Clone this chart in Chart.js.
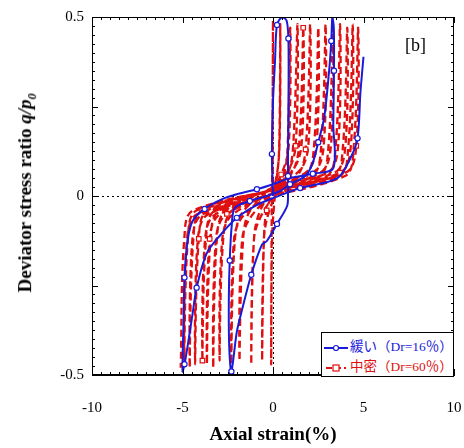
<!DOCTYPE html>
<html>
<head>
<meta charset="utf-8">
<script src="https://cdn.jsdelivr.net/npm/chart.js@4.4.1/dist/chart.umd.min.js"></script>
<style>
  body { margin: 0; background: #fff; }
  #wrap { position: relative; width: 464px; height: 448px; }
  #ytitle {
    position: absolute; left: 27px; top: 193px;
    transform: translate(-50%, -50%) rotate(-90deg);
    white-space: nowrap; font: bold 19px "Liberation Serif", serif; color: #000;
  }
  #ytitle sub { font-size: 12px; }
  #tag { position: absolute; left: 405px; top: 35px; font: 18px "Liberation Serif", serif; }
  #legend {
    position: absolute; left: 321px; top: 332px; width: 131px; height: 43px;
    border: 1px solid #000; background: #fff; font: 13.5px "Liberation Serif", "Noto Sans CJK JP", serif;
  }
  #legend div { position: absolute; left: 2px; white-space: nowrap; }
  #legend svg { vertical-align: middle; margin-right: 2px; }
</style>
</head>
<body>
<div id="wrap">
  <canvas id="chart" width="464" height="448"></canvas>
  <div id="ytitle">Deviator stress ratio <i>q/p</i><sub><i>0</i></sub></div>
  <div id="tag">[b]</div>
  <div id="legend">
    <div style="top:2px;color:#1a1ad8">
      <svg width="24" height="10"><line x1="0" y1="5" x2="24" y2="5" stroke="#1a1ad8" stroke-width="2"/><circle cx="12" cy="5" r="2.5" fill="#fff" stroke="#1a1ad8" stroke-width="1.2"/></svg>緩い（Dr=16％）</div>
    <div style="top:22px;color:#e01010">
      <svg width="24" height="10"><line x1="2" y1="5" x2="22" y2="5" stroke="#e01010" stroke-width="2.2" stroke-dasharray="6 3"/><rect x="9" y="2" width="6" height="6" fill="#fff" stroke="#e01010" stroke-width="1.2"/></svg>中密（Dr=60％）</div>
  </div>
</div>
<script>
// 緩い (Dr=16%) - axial strain (%) and q/p0
const strainLoose = [0, -0.06, 0.0, 0.11, 0.22, 0.5, 0.75, 0.85, 0.86, 0.83, 0.83, 0.83, 0.78, 0.22, -0.33, -0.61, -1.2, -1.72, -2.0, -2.3,
  -2.42, -2.44, -2.39, -2.28, -2.11, -1.28, -0.33, 0.39, 0.94, 1.78, 2.17, 2.5, 2.83, 3.1, 3.22, 3.28,
  3.36, 3.37, 3.33, 3.33, 2.2, 0.94, 0.0, -0.89, -1.94, -2.78, -3.78, -4.44, -4.72, -4.89, -4.94, -5.0,
  -4.89, -4.72, -4.44, -4.22, -3.67, -2.94, -2.0, -1.0, 0.0, 1.5, 3.56, 4.28, 4.67, 4.83, 5.0];
const ratioLoose = [0, 0.117, 0.264, 0.375, 0.478, 0.5, 0.49, 0.44, 0.3, 0.136, 0.056, 0.006, -0.028, -0.078, -0.125, -0.136, -0.22, -0.32, -0.38, -0.49,
  -0.42, -0.283, -0.18, -0.083, -0.033, -0.014, 0.0, 0.014, 0.033, 0.056, 0.089, 0.15, 0.22, 0.35, 0.433, 0.5,
  0.47, 0.35, 0.2, 0.078, 0.062, 0.05, 0.033, 0.019, 0.006, -0.008, -0.036, -0.07, -0.125, -0.228, -0.35, -0.49,
  -0.47, -0.42, -0.328, -0.256, -0.161, -0.111, -0.061, -0.028, -0.006, 0.022, 0.05, 0.106, 0.161, 0.289, 0.389];

// 中密 (Dr=60%)
const strainDense = [0, -0.02, 0.0, -0.03, -0.06, -0.08, -0.1,
  -0.05, 0.1, 0.33, 0.4,
  0.35, 0.1, -0.35, -0.5, -0.6,
  -0.5, -0.2, 0.55, 0.8, 0.95,
  0.87, 0.45, -0.7, -1.05, -1.2,
  -1.05, -0.6, 0.75, 1.1, 1.35,
  1.25, 0.75, -1.25, -1.65, -1.85,
  -1.7, -1.1, 0.92, 1.42, 1.67,
  1.57, 0.97, -1.6, -2.1, -2.3,
  -2.15, -1.55, 1.3, 1.8, 2.05,
  1.95, 1.35, -2.25, -2.75, -2.95,
  -2.8, -2.2, 1.75, 2.25, 2.5,
  2.4, 1.8, -2.6, -3.1, -3.3,
  -3.15, -2.55, 2.15, 2.65, 2.9,
  2.8, 2.2, -2.95, -3.45, -3.65,
  -3.5, -2.9, 2.55, 3.05, 3.3,
  3.2, 2.6, -3.2, -3.7, -3.9,
  -3.75, -3.15, 2.95, 3.45, 3.7,
  3.6, 3.0, -3.6, -4.1, -4.3,
  -4.15, -3.55, 3.35, 3.85, 4.1,
  4.0, 3.4, -3.9, -4.4, -4.6,
  -4.45, -3.85, 3.65, 4.15, 4.4,
  4.3, 3.7, -4.2, -4.7, -4.9,
  -4.75, -4.15, 3.95, 4.45, 4.7,
  4.6, 4.0, -4.4, -4.9, -5.1];
const ratioDense = [0, 0.15, 0.49, 0.14, 0.0, -0.13, -0.47,
  -0.12, 0.0, 0.12, 0.48,
  0.13, 0.03, -0.04, -0.12, -0.46,
  -0.12, -0.04, 0.05, 0.13, 0.47,
  0.14, 0.06, -0.04, -0.12, -0.47,
  -0.12, -0.05, 0.055, 0.13, 0.48,
  0.14, 0.065, -0.04, -0.12, -0.46,
  -0.12, -0.05, 0.055, 0.13, 0.47,
  0.14, 0.065, -0.04, -0.12, -0.47,
  -0.12, -0.05, 0.055, 0.13, 0.48,
  0.14, 0.065, -0.04, -0.12, -0.46,
  -0.12, -0.05, 0.055, 0.13, 0.47,
  0.14, 0.065, -0.04, -0.12, -0.48,
  -0.12, -0.05, 0.055, 0.13, 0.48,
  0.14, 0.065, -0.04, -0.12, -0.47,
  -0.12, -0.05, 0.055, 0.13, 0.47,
  0.14, 0.065, -0.04, -0.12, -0.46,
  -0.12, -0.05, 0.055, 0.13, 0.48,
  0.14, 0.065, -0.04, -0.12, -0.47,
  -0.12, -0.05, 0.055, 0.13, 0.47,
  0.14, 0.065, -0.04, -0.12, -0.48,
  -0.12, -0.05, 0.055, 0.13, 0.48,
  0.14, 0.065, -0.04, -0.12, -0.47,
  -0.12, -0.05, 0.055, 0.13, 0.47,
  0.14, 0.065, -0.04, -0.12, -0.48];

const blue = '#1a1ad8';
const red = '#e01010';
const serif = '"Liberation Serif", serif';

const toPoints = (xs, ys) => xs.map((x, i) => ({ x: x, y: ys[i] }));

// frame, zero lines and inward ticks
const framePlugin = {
  id: 'frame',
  beforeDatasetsDraw(chart) {
    const { ctx, chartArea: a, scales: { x, y } } = chart;
    ctx.save();
    ctx.strokeStyle = '#000';
    ctx.lineWidth = 1;
    ctx.setLineDash([2, 3]);
    const x0 = Math.round(x.getPixelForValue(0)) + 0.5;
    const y0 = Math.round(y.getPixelForValue(0)) + 0.5;
    ctx.beginPath();
    ctx.moveTo(x0, a.top); ctx.lineTo(x0, a.bottom);
    ctx.moveTo(a.left, y0); ctx.lineTo(a.right, y0);
    ctx.stroke();
    ctx.restore();
  },
  afterDraw(chart) {
    const { ctx, chartArea: a, scales: { x, y } } = chart;
    ctx.save();
    ctx.strokeStyle = '#000';
    ctx.lineWidth = 1;
    ctx.strokeRect(a.left + 0.5, a.top + 0.5, a.right - a.left - 1, a.bottom - a.top - 1);
    ctx.beginPath();
    for (let k = -20; k <= 20; k++) {
      const px = Math.round(x.getPixelForValue(k * 0.5)) + 0.5;
      const len = k % 10 === 0 ? 6 : 3;
      ctx.moveTo(px, a.bottom); ctx.lineTo(px, a.bottom - len);
      ctx.moveTo(px, a.top); ctx.lineTo(px, a.top + len);
    }
    for (let k = -20; k <= 20; k++) {
      const py = Math.round(y.getPixelForValue(k * 0.025)) + 0.5;
      const len = k % 10 === 0 ? 6 : 3;
      ctx.moveTo(a.left, py); ctx.lineTo(a.left + len, py);
      ctx.moveTo(a.right, py); ctx.lineTo(a.right - len, py);
    }
    ctx.stroke();
    ctx.restore();
  }
};

new Chart(document.getElementById('chart'), {
  type: 'line',
  data: {
    datasets: [
      {
        label: '緩い（Dr=16％）',
        data: toPoints(strainLoose, ratioLoose),
        borderColor: blue,
        borderWidth: 2,
        tension: 0.3,
        pointStyle: 'circle',
        pointRadius: ctx => (ctx.dataIndex % 3 === 1 ? 2.6 : 0),
        pointBackgroundColor: '#fff',
        pointBorderColor: blue,
        pointBorderWidth: 1.2
      },
      {
        label: '中密（Dr=60％）',
        data: toPoints(strainDense, ratioDense),
        borderColor: red,
        borderWidth: 2.3,
        borderDash: [7, 4],
        tension: 0.35,
        pointStyle: 'rect',
        pointRadius: ctx => (ctx.dataIndex % 9 === 4 ? 3.2 : 0),
        pointBackgroundColor: '#fff',
        pointBorderColor: red,
        pointBorderWidth: 1.2
      }
    ]
  },
  options: {
    responsive: false,
    animation: false,
    devicePixelRatio: 1,
    layout: { padding: { top: 15, right: 10, left: 0, bottom: 0 } },
    plugins: { legend: { display: false }, tooltip: { enabled: false } },
    scales: {
      x: {
        type: 'linear', min: -10, max: 10,
        afterFit: s => { s.height = 73; },
        grid: { drawOnChartArea: false, drawTicks: true, tickLength: 23, tickColor: 'rgba(0,0,0,0)' },
        border: { color: '#000' },
        ticks: { stepSize: 5, color: '#000', padding: 1, font: { family: serif, size: 15 } },
        title: { display: true, text: 'Axial strain(%)', color: '#000',
          padding: { top: 0, bottom: 2 }, font: { family: serif, size: 19, weight: 'bold' } }
      },
      y: {
        type: 'linear', min: -0.5, max: 0.5,
        afterFit: s => { s.width = 92; },
        grid: { drawOnChartArea: false, drawTicks: false },
        border: { color: '#000' },
        ticks: { stepSize: 0.5, color: '#000', padding: 8, font: { family: serif, size: 15 },
          callback: v => String(v) }
      }
    }
  },
  plugins: [framePlugin]
});
</script>
</body>
</html>
